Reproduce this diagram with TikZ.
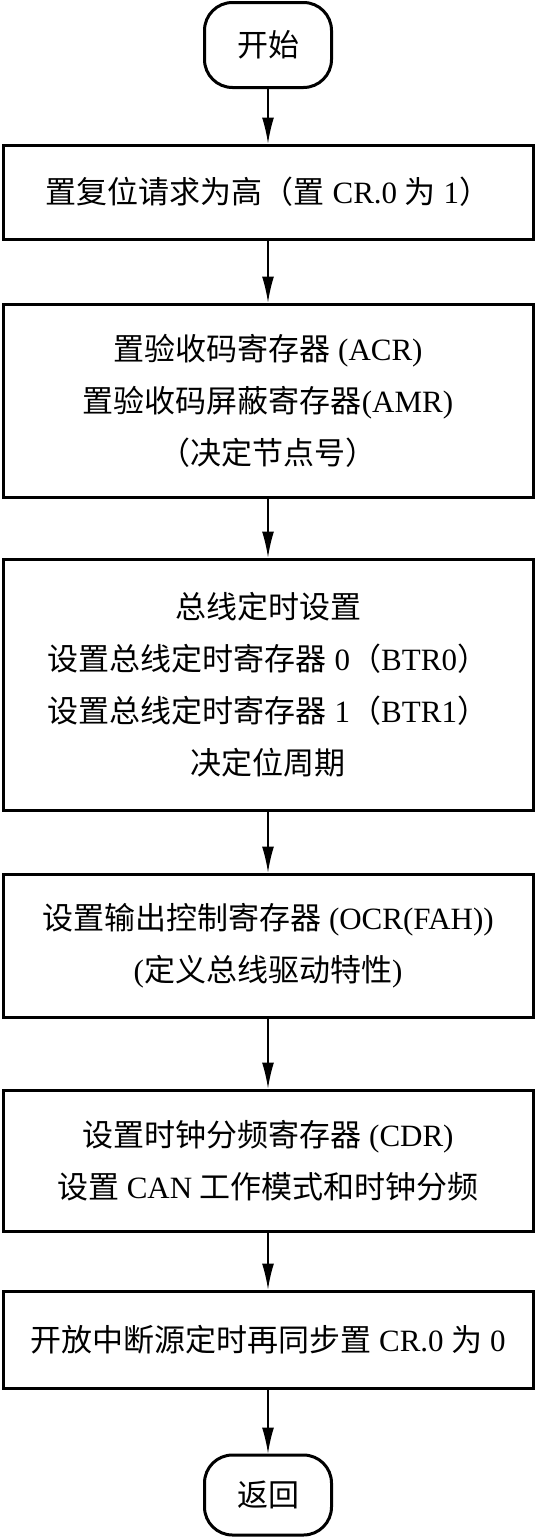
\documentclass[tikz,border=0pt]{standalone}
\usepackage{fontspec}
\setmainfont{Liberation Serif}
\newfontfamily\zhfont{Noto Sans CJK SC}
\newcommand\zh[1]{{\zhfont #1}}
\usetikzlibrary{arrows.meta}
\begin{document}
\begin{tikzpicture}[x=1pt,y=-1pt,
  stepbox/.style={draw,line width=3pt,minimum width=530pt,align=center,inner sep=0pt,
     font=\fontsize{31}{52}\selectfont},
  termbox/.style={draw,line width=3pt,rounded corners=28pt,minimum width=127pt,inner sep=0pt,
     font=\fontsize{31}{34}\selectfont},
  arr/.style={line width=1.5pt,-{Latex[length=26pt,width=12pt]}}]
\useasboundingbox (0,0) rectangle (536,1539);
\node[termbox,minimum height=85pt] (s) at (268,45) {\zh{开始}};
\node[stepbox,minimum height=94pt] (b1) at (268,192) {\zh{置复位请求为高（置} CR.0 \zh{为} 1\zh{）}};
\node[stepbox,minimum height=193pt] (b2) at (268,400.5) {\zh{置验收码寄存器} (ACR)\\\zh{置验收码屏蔽寄存器}(AMR)\\\zh{（决定节点号）}};
\node[stepbox,minimum height=251pt] (b3) at (268,684.5) {\zh{总线定时设置}\\\zh{设置总线定时寄存器} 0\zh{（}BTR0\zh{）}\\\zh{设置总线定时寄存器} 1\zh{（}BTR1\zh{）}\\\zh{决定位周期}};
\node[stepbox,minimum height=143pt] (b4) at (268,945.5) {\zh{设置输出控制寄存器} (OCR(FAH))\\(\zh{定义总线驱动特性})};
\node[stepbox,minimum height=141pt] (b5) at (268,1160.5) {\zh{设置时钟分频寄存器} (CDR)\\\zh{设置} CAN \zh{工作模式和时钟分频}};
\node[stepbox,minimum height=97pt] (b6) at (268,1339.5) {\zh{开放中断源定时再同步置} CR.0 \zh{为} 0};
\node[termbox,minimum height=80pt] (e) at (268,1495) {\zh{返回}};
\draw[arr] (s) -- (b1);
\draw[arr] (b1) -- (b2);
\draw[arr] (b2) -- (b3);
\draw[arr] (b3) -- (b4);
\draw[arr] (b4) -- (b5);
\draw[arr] (b5) -- (b6);
\draw[arr] (b6) -- (e);
\end{tikzpicture}
\end{document}
